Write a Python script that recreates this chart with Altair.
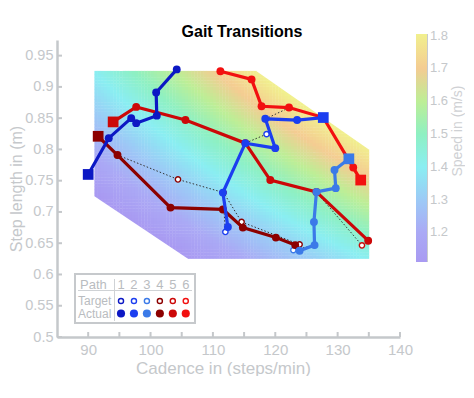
import altair as alt
import numpy as np
import pandas as pd

# ---------------- data ----------------
paths = [1, 2, 3, 4, 5, 6]
path_colors = ["#0c18c4", "#1c3ef0", "#3b7ae8", "#8c0000", "#cc0808", "#f21010"]
draw_order = [4, 5, 6, 1, 2, 3]

# actual trajectories (first point = start, drawn as a square)
act_cad = {
    1: [90.0, 93.3, 96.9, 97.7, 101.0, 100.9, 104.2],
    2: [127.7, 123.5, 118.4, 120.0, 115.2, 111.6, 112.4],
    3: [131.8, 129.5, 129.7, 126.6, 126.2, 126.3, 123.9],
    4: [91.6, 94.7, 103.2, 111.6, 114.8, 120.1, 123.2],
    5: [94.0, 97.7, 105.6, 115.2, 119.2, 126.6, 134.9],
    6: [133.7, 132.5, 127.7, 122.2, 117.8, 116.2, 111.2],
}
act_step = {
    1: [0.760, 0.818, 0.850, 0.842, 0.854, 0.891, 0.928],
    2: [0.851, 0.847, 0.849, 0.802, 0.810, 0.731, 0.676],
    3: [0.785, 0.767, 0.738, 0.732, 0.684, 0.647, 0.638],
    4: [0.821, 0.791, 0.707, 0.704, 0.675, 0.659, 0.647],
    5: [0.844, 0.868, 0.847, 0.810, 0.751, 0.732, 0.654],
    6: [0.751, 0.771, 0.851, 0.867, 0.869, 0.912, 0.925],
}
# target points
tgt_cad = {
    1: [100.9, 101.0],
    2: [118.6, 115.2, 111.6, 112.0],
    3: [126.3, 122.9],
    4: [94.7, 104.4, 111.7, 114.6, 123.9],
    5: [126.6, 133.9],
    6: [118.4, 122.2],
}
tgt_step = {
    1: [0.891, 0.854],
    2: [0.8245, 0.810, 0.731, 0.668],
    3: [0.647, 0.639],
    4: [0.791, 0.752, 0.731, 0.684, 0.648],
    5: [0.7316, 0.6466],
    6: [0.8486, 0.8667],
}

# region of the speed field (polygon vertices)
region_cad = [91, 117, 135, 135, 106, 91]
region_step = [0.925, 0.925, 0.8, 0.625, 0.625, 0.725]

x_ticks = [90, 95, 100, 105, 110, 115, 120, 125, 130, 135, 140]
x_labels = [90, 100, 110, 120, 130, 140]
y_ticks = [0.5, 0.55, 0.6, 0.65, 0.7, 0.75, 0.8, 0.85, 0.9, 0.95]
cbar_ticks = [1.2, 1.3, 1.4, 1.5, 1.6, 1.7, 1.8]
cmap_stops = [1.11, 1.2, 1.3, 1.4, 1.5, 1.6, 1.7, 1.805]
cmap_colors = ["#a99af2", "#aaa9f5", "#9ccaf6", "#8aeef2", "#8ef0c2",
               "#bdee96", "#f4cc92", "#f1f08e"]

# ---------------- tables ----------------
act_df = pd.DataFrame([
    {"path": p, "idx": i, "cadence": c, "step": s}
    for p in paths for i, (c, s) in enumerate(zip(act_cad[p], act_step[p]))
])
tgt_df = pd.DataFrame([
    {"path": p, "idx": i, "cadence": c, "step": s}
    for p in paths for i, (c, s) in enumerate(zip(tgt_cad[p], tgt_step[p]))
])

# speed field grid (speed = cadence * step length / 60)
dc, ds = 0.5, 0.005
c_lo, c_hi = min(region_cad), max(region_cad)
s_lo, s_hi = min(region_step), max(region_step)
nc = int(round((c_hi - c_lo) / dc))
ns = int(round((s_hi - s_lo) / ds))
rows = []
for i in range(nc):
    c0 = c_lo + i * dc
    for j in range(ns):
        s0 = s_lo + j * ds
        rows.append({
            "cadence": round(c0, 3), "cadence2": round(c0 + dc * 1.12, 3),
            "step": round(s0, 4), "step2": round(s0 + ds * 1.12, 4),
            "speed": round((c0 + dc / 2) * (s0 + ds / 2) / 60, 4),
        })
grid_df = pd.DataFrame(rows)

# masks cutting the diagonal corners of the region (slightly oversized)
mask_tr = pd.DataFrame({"cadence": [region_cad[1], region_cad[2], region_cad[2] + 0.4],
                        "step": [region_step[1], region_step[2], region_step[2]],
                        "step2": [s_hi + 0.006] * 3})
mask_bl = pd.DataFrame({"cadence": [region_cad[5] - 0.4, region_cad[5], region_cad[4]],
                        "step": [region_step[5], region_step[5], region_step[4]],
                        "step2": [s_lo - 0.006] * 3})

# ---------------- chart ----------------
W, H = 343, 297
GRAY = "#c5c8cb"
LGRAY = "#b9bcc0"

x_scale = alt.Scale(domain=[85, 140], nice=False, zero=False)
y_scale = alt.Scale(domain=[0.5, 0.975], nice=False, zero=False)
x_axis = alt.Axis(title="Cadence in (steps/min)", values=x_labels, format="d",
                  ticks=False, domainColor=GRAY, domainWidth=2.5, labelColor=GRAY,
                  labelFontSize=15, labelPadding=5, titleColor=GRAY,
                  titleFontSize=17, titlePadding=3, titleFontWeight="normal",
                  titleX=166, titleAlign="center",
                  grid=False, labelFlush=False)
y_axis = alt.Axis(title="Step length in (m)", values=y_ticks, format="~g",
                  ticks=False, domainColor=GRAY, domainWidth=2.5, labelColor=GRAY,
                  labelFontSize=14.5, labelPadding=4, titleColor=GRAY,
                  titleFontSize=16, titlePadding=0, titleFontWeight="normal",
                  grid=False, labelFlush=False)


def X(field="cadence"):
    return alt.X(f"{field}:Q", scale=x_scale, axis=x_axis)


def Y(field="step"):
    return alt.Y(f"{field}:Q", scale=y_scale, axis=y_axis)


color_scale = alt.Scale(domain=cmap_stops, range=cmap_colors, clamp=True,
                        interpolate="rgb")
speed_legend = alt.Legend(orient="none", legendX=359, legendY=-6,
                          direction="vertical", gradientLength=228,
                          gradientThickness=11, title=None, values=cbar_ticks,
                          format=".1f", labelFontSize=13, labelColor=GRAY,
                          labelOffset=3, gradientStrokeWidth=0)

layers = []
layers.append(
    alt.Chart(grid_df).mark_rect().encode(
        x=X(), x2="cadence2:Q", y=Y(), y2="step2:Q",
        color=alt.Color("speed:Q", scale=color_scale, legend=speed_legend),
    )
)
for m in (mask_tr, mask_bl):
    layers.append(
        alt.Chart(m).mark_area(color="white", opacity=1).encode(
            x=X(), y=Y(), y2="step2:Q")
    )

# inward ticks
layers.append(
    alt.Chart(pd.DataFrame({"cadence": x_ticks})).mark_rule(color=GRAY, strokeWidth=2)
    .encode(x=X(), y=alt.value(H - 5), y2=alt.value(H))
)
layers.append(
    alt.Chart(pd.DataFrame({"step": y_ticks})).mark_rule(color=GRAY, strokeWidth=2)
    .encode(y=Y(), x=alt.value(0), x2=alt.value(5))
)

# target dotted lines
layers.append(
    alt.Chart(tgt_df).mark_line(color="#333333", strokeWidth=1, strokeDash=[1.5, 2])
    .encode(x=X(), y=Y(), detail="path:N", order="idx:Q")
)
for p in paths:
    c = path_colors[paths.index(p)]
    layers.append(
        alt.Chart(tgt_df).transform_filter(alt.datum.path == p)
        .mark_circle(fill="white", stroke=c, strokeWidth=1.4, size=28, opacity=1)
        .encode(x=X(), y=Y())
    )

# actual paths
for p in draw_order:
    c = path_colors[paths.index(p)]
    base = alt.Chart(act_df).transform_filter(alt.datum.path == p)
    layers.append(base.mark_line(color=c, strokeWidth=3.2)
                  .encode(x=X(), y=Y(), order="idx:Q"))
    layers.append(base.transform_filter(alt.datum.idx > 0)
                  .mark_circle(color=c, size=62, opacity=1)
                  .encode(x=X(), y=Y()))
    layers.append(base.transform_filter(alt.datum.idx == 0)
                  .mark_square(color=c, size=115, opacity=1)
                  .encode(x=X(), y=Y()))

# ---- path legend table ----
LY = 2  # vertical nudge of the table
one = pd.DataFrame({"k": [0]})
layers.append(
    alt.Chart(one).mark_rect(fill="white", stroke="#c6c9cc", strokeWidth=2)
    .encode(x=alt.value(18), x2=alt.value(138), y=alt.value(232 + LY), y2=alt.value(281 + LY))
)
layers.append(
    alt.Chart(one).mark_rule(color="#cfd2d5", strokeWidth=1)
    .encode(x=alt.value(21), x2=alt.value(135), y=alt.value(248.5 + LY))
)
layers.append(
    alt.Chart(one).mark_rule(color="#cfd2d5", strokeWidth=1)
    .encode(x=alt.value(57.5), y=alt.value(237 + LY), y2=alt.value(279 + LY))
)
for label, yy, xx, fs in (("Path", 242.5, 23, 13), ("Target", 259, 21, 12),
                          ("Actual", 271.5, 21, 12)):
    layers.append(
        alt.Chart(pd.DataFrame({"t": [label]}))
        .mark_text(align="left", baseline="middle", fontSize=fs, color=LGRAY)
        .encode(text="t:N", x=alt.value(xx), y=alt.value(yy + LY))
    )
for i, p in enumerate(paths):
    c = path_colors[i]
    xx = 64 + i * 12.95
    layers.append(
        alt.Chart(pd.DataFrame({"t": [str(p)]}))
        .mark_text(align="center", baseline="middle", fontSize=13, color=LGRAY)
        .encode(text="t:N", x=alt.value(xx), y=alt.value(242.5 + LY))
    )
    layers.append(
        alt.Chart(one).mark_circle(fill="white", stroke=c, strokeWidth=1.4, size=26, opacity=1)
        .encode(x=alt.value(xx), y=alt.value(259 + LY))
    )
    layers.append(
        alt.Chart(one).mark_circle(color=c, size=66, opacity=1)
        .encode(x=alt.value(xx), y=alt.value(271.5 + LY))
    )

# colorbar edge and title
layers.append(
    alt.Chart(one).mark_rule(color="#c8cbce", strokeWidth=1)
    .encode(x=alt.value(370.5), y=alt.value(-6), y2=alt.value(222))
)
layers.append(
    alt.Chart(pd.DataFrame({"t": ["Speed in (m/s)"]}))
    .mark_text(angle=270, align="center", baseline="middle", fontSize=14, color="#cfd1d4")
    .encode(text="t:N", x=alt.value(401), y=alt.value(91))
)

chart = alt.layer(*layers).properties(
    width=W, height=H,
    title=alt.TitleParams("Gait Transitions", fontSize=16, fontWeight="bold",
                          color="black", anchor="middle", frame="group",
                          dx=13.5, offset=-6),
    padding={"left": 0, "top": 15, "right": 0, "bottom": 0},
).configure(font="Liberation Sans").configure_view(stroke=None, strokeWidth=0)

chart.save("out.html", embed_options={"renderer": "svg", "actions": False})
